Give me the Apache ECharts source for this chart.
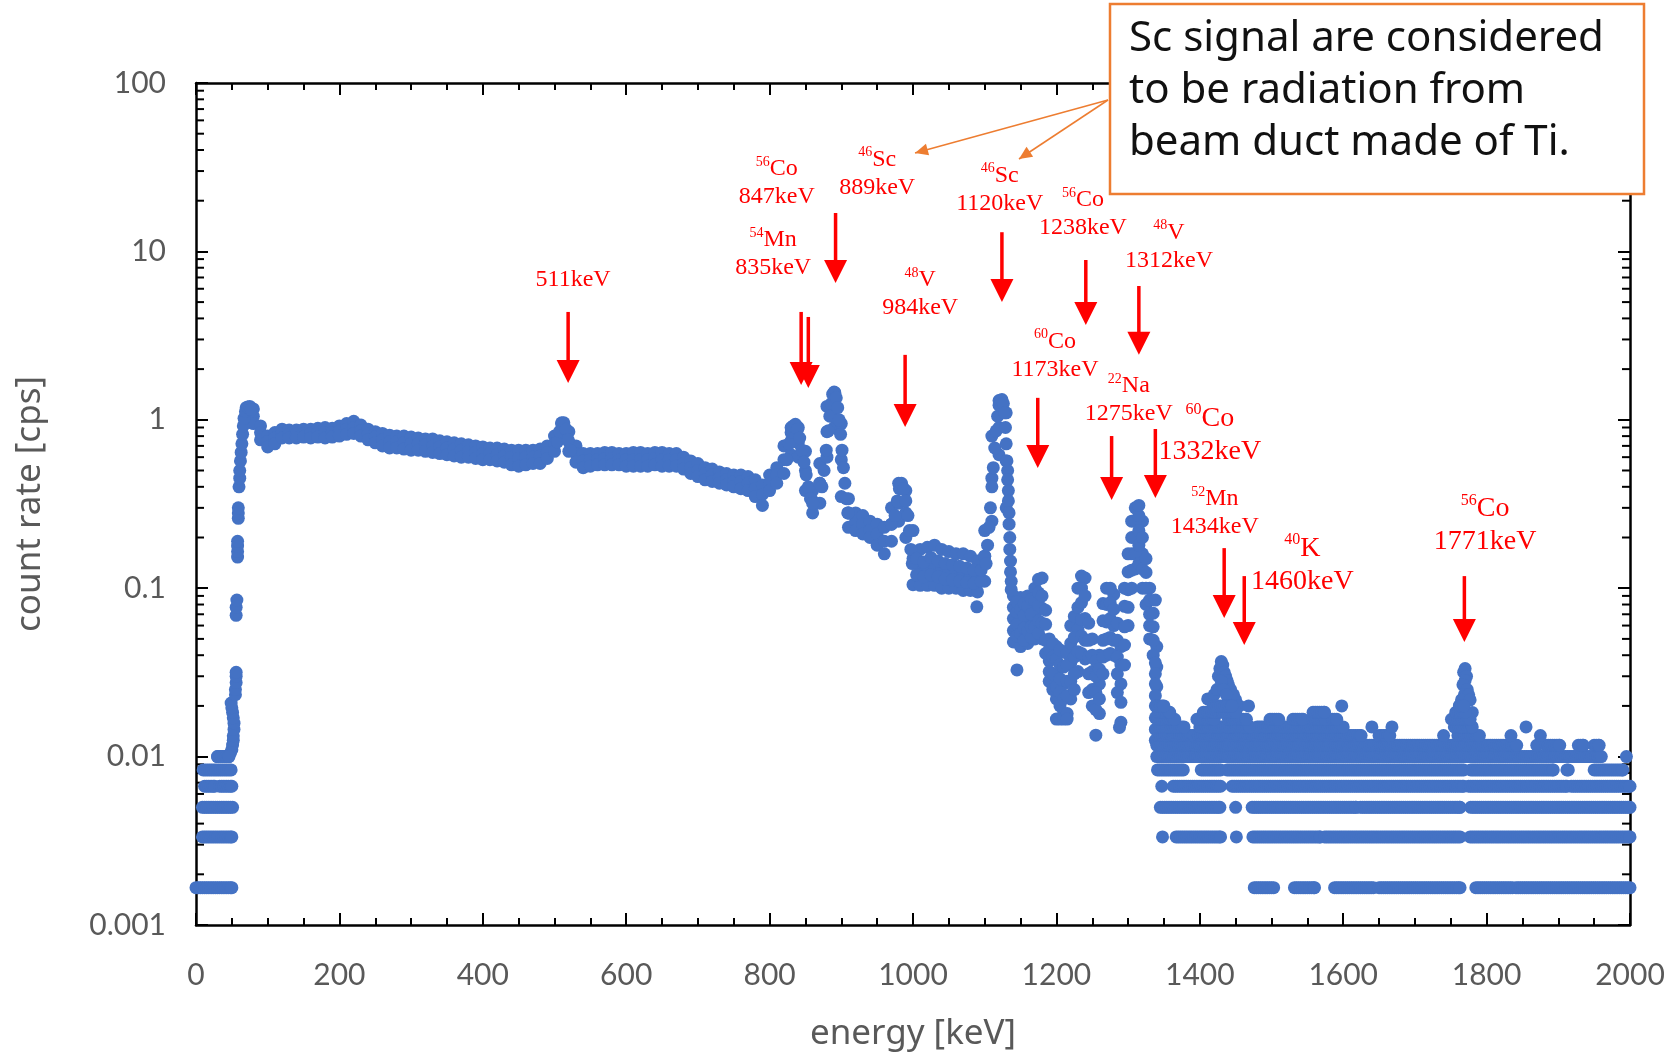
<!DOCTYPE html>
<html>
<head>
<meta charset="utf-8">
<title>count rate spectrum</title>
<script src="https://cdn.jsdelivr.net/npm/echarts@6/dist/echarts.min.js"></script>
<style>
  html, body { margin: 0; padding: 0; background: #fff; }
  #chart { width: 1673px; height: 1057px; }
</style>
</head>
<body>
<div id="chart"></div>
<script>
// main band of the spectrum, read at 10 keV steps (cps): top, centre and bottom of the band
const bandEnergy = [70, 80, 90, 100, 110, 120, 130, 140, 150, 160, 170, 180, 190, 200, 210, 220, 230, 240, 250, 260,
  270, 280, 290, 300, 310, 320, 330, 340, 350, 360, 370, 380, 390, 400, 410, 420, 430, 440, 450, 460,
  470, 480, 490, 500, 510, 520, 530, 540, 550, 560, 570, 580, 590, 600, 610, 620, 630, 640, 650, 660,
  670, 680, 690, 700, 710, 720, 730, 740, 750, 760, 770, 780, 790, 800, 810, 820, 830, 840, 850, 860,
  870, 880, 890, 900, 910, 920, 930, 940, 950, 960, 970, 980, 990, 1000, 1010, 1020, 1030, 1040, 1050, 1060,
  1070, 1080, 1090, 1100, 1110, 1120, 1130, 1140, 1150, 1160, 1170, 1180, 1190, 1200, 1210, 1220, 1230, 1240, 1250, 1260,
  1270, 1280, 1290, 1300, 1310, 1320, 1330, 1340];
const bandUpper = [1.18, 1.16, 0.92, 0.80, 0.84, 0.88, 0.87, 0.87, 0.88, 0.88, 0.89, 0.90, 0.89, 0.92, 0.95, 0.98, 0.93, 0.88, 0.85, 0.83,
  0.81, 0.80, 0.80, 0.79, 0.78, 0.77, 0.77, 0.75, 0.74, 0.73, 0.72, 0.71, 0.70, 0.69, 0.68, 0.68, 0.67, 0.66, 0.66, 0.66,
  0.66, 0.67, 0.70, 0.80, 0.96, 0.85, 0.70, 0.63, 0.63, 0.63, 0.64, 0.64, 0.63, 0.63, 0.64, 0.64, 0.63, 0.64, 0.64, 0.63,
  0.63, 0.60, 0.57, 0.55, 0.52, 0.51, 0.49, 0.48, 0.47, 0.47, 0.46, 0.44, 0.41, 0.47, 0.52, 0.70, 0.90, 0.90, 0.65, 0.38,
  0.55, 1.20, 1.46, 0.95, 0.34, 0.28, 0.27, 0.25, 0.24, 0.23, 0.30, 0.42, 0.38, 0.22, 0.17, 0.175, 0.18, 0.17, 0.165, 0.16,
  0.16, 0.155, 0.145, 0.22, 0.80, 1.30, 1.10, 0.090, 0.088, 0.090, 0.100, 0.115, 0.050, 0.045, 0.042, 0.060, 0.100, 0.115, 0.050, 0.040,
  0.100, 0.092, 0.045, 0.160, 0.300, 0.250, 0.100, 0.045];
const bandMiddle = [1.10, 1.05, 0.84, 0.74, 0.78, 0.83, 0.82, 0.82, 0.83, 0.83, 0.84, 0.84, 0.84, 0.86, 0.88, 0.90, 0.86, 0.82, 0.79, 0.76,
  0.74, 0.74, 0.73, 0.72, 0.72, 0.71, 0.70, 0.69, 0.68, 0.67, 0.66, 0.65, 0.64, 0.63, 0.63, 0.62, 0.61, 0.60, 0.59, 0.60,
  0.60, 0.61, 0.64, 0.72, 0.88, 0.74, 0.63, 0.57, 0.58, 0.58, 0.59, 0.59, 0.58, 0.58, 0.58, 0.58, 0.58, 0.59, 0.58, 0.58,
  0.58, 0.55, 0.52, 0.50, 0.48, 0.47, 0.45, 0.44, 0.43, 0.43, 0.42, 0.39, 0.36, 0.42, 0.47, 0.58, 0.75, 0.73, 0.50, 0.33,
  0.42, 0.85, 1.15, 0.58, 0.28, 0.25, 0.24, 0.22, 0.21, 0.19, 0.24, 0.32, 0.28, 0.15, 0.133, 0.135, 0.137, 0.13, 0.128, 0.126,
  0.125, 0.122, 0.118, 0.155, 0.45, 0.90, 0.57, 0.066, 0.062, 0.066, 0.071, 0.076, 0.037, 0.031, 0.027, 0.036, 0.057, 0.066, 0.032, 0.027,
  0.063, 0.060, 0.027, 0.098, 0.20, 0.16, 0.07, 0.034];
const bandLower = [1.02, 0.95, 0.76, 0.69, 0.72, 0.78, 0.78, 0.78, 0.79, 0.78, 0.79, 0.78, 0.79, 0.80, 0.82, 0.83, 0.80, 0.76, 0.73, 0.70,
  0.68, 0.68, 0.67, 0.66, 0.66, 0.65, 0.64, 0.63, 0.62, 0.61, 0.60, 0.60, 0.59, 0.58, 0.58, 0.57, 0.56, 0.54, 0.53, 0.54,
  0.55, 0.55, 0.59, 0.65, 0.80, 0.65, 0.56, 0.52, 0.53, 0.54, 0.54, 0.54, 0.54, 0.53, 0.53, 0.53, 0.53, 0.54, 0.53, 0.53,
  0.53, 0.51, 0.48, 0.46, 0.44, 0.43, 0.42, 0.41, 0.40, 0.39, 0.38, 0.35, 0.31, 0.38, 0.42, 0.48, 0.62, 0.60, 0.38, 0.28,
  0.32, 0.60, 0.90, 0.35, 0.23, 0.22, 0.21, 0.20, 0.18, 0.16, 0.19, 0.25, 0.20, 0.105, 0.104, 0.104, 0.104, 0.100, 0.100, 0.100,
  0.097, 0.097, 0.095, 0.110, 0.25, 0.62, 0.30, 0.048, 0.045, 0.047, 0.050, 0.050, 0.028, 0.022, 0.018, 0.022, 0.032, 0.038, 0.020, 0.018,
  0.040, 0.040, 0.016, 0.060, 0.130, 0.100, 0.050, 0.026];

// single points: steep peak flanks, scatter inside wide parts of the band, outliers
const extraPoints = [
  [30, 0.01], [35, 0.01], [40, 0.01], [45, 0.01], [48, 0.0105], [50, 0.011], [51, 0.0117], [52, 0.0125], [52, 0.0133],
  [53, 0.0145], [53, 0.0158], [52, 0.017], [51, 0.0183], [50, 0.0195], [49, 0.0208], [55, 0.0233], [55, 0.025],
  [56, 0.0275], [56, 0.03], [56, 0.0317], [56, 0.069], [56, 0.077], [57, 0.085], [58, 0.153], [58, 0.165], [58, 0.178],
  [58, 0.19], [59, 0.26], [59, 0.28], [59, 0.30], [60, 0.40], [61, 0.45], [61, 0.50], [62, 0.57], [63, 0.64], [64, 0.72],
  [65, 0.82], [66, 0.92], [67, 1.02], [69, 1.12], [72, 1.19], [75, 1.2], [77, 1.15],
  [504, 0.74], [507, 0.85], [510, 0.95], [513, 0.96], [516, 0.88], [519, 0.76], [522, 0.66],
  [824, 0.58], [827, 0.72], [830, 0.84], [833, 0.92], [836, 0.94], [839, 0.88], [842, 0.78], [845, 0.66], [848, 0.56],
  [851, 0.47], [854, 0.40], [857, 0.34], [860, 0.32], [870, 0.42],
  [873, 0.40], [876, 0.50], [879, 0.66], [882, 0.86], [884, 1.05], [886, 1.25], [888, 1.42], [891, 1.45], [893, 1.35],
  [895, 1.18], [897, 1.0], [899, 0.82], [901, 0.66], [903, 0.52], [905, 0.42], [907, 0.34], [909, 0.28], [910, 0.28],
  [970, 0.24], [975, 0.27], [978, 0.33], [981, 0.39], [984, 0.42], [987, 0.39], [990, 0.33], [993, 0.27], [995, 0.22],
  [997, 0.17], [999, 0.14],
  [1005, 0.12], [1005, 0.15], [1015, 0.117], [1015, 0.143], [1025, 0.12], [1025, 0.152], [1035, 0.117], [1035, 0.145],
  [1045, 0.113], [1045, 0.14], [1055, 0.112], [1055, 0.138], [1065, 0.11], [1065, 0.135], [1075, 0.108], [1075, 0.132],
  [1085, 0.107], [1085, 0.128], [1095, 0.11], [1095, 0.128], [1089, 0.0775], [1100, 0.155],
  [1102, 0.14], [1104, 0.18], [1106, 0.23], [1108, 0.3], [1110, 0.4], [1112, 0.52], [1114, 0.68], [1116, 0.86],
  [1118, 1.05], [1120, 1.22], [1122, 1.3], [1124, 1.32], [1126, 1.25], [1128, 1.1], [1129, 0.9], [1130, 0.72],
  [1131, 0.57], [1132, 0.50], [1132, 0.44], [1133, 0.38], [1133, 0.33], [1134, 0.28], [1134, 0.24], [1135, 0.2],
  [1135, 0.17], [1136, 0.145], [1136, 0.125], [1137, 0.11], [1137, 0.098],
  [1140, 0.056], [1140, 0.077], [1145, 0.052], [1145, 0.061], [1145, 0.072], [1145, 0.083], [1145, 0.0327],
  [1150, 0.054], [1150, 0.075], [1155, 0.049], [1155, 0.058], [1155, 0.069], [1155, 0.081],
  [1160, 0.056], [1160, 0.078], [1165, 0.051], [1165, 0.059], [1165, 0.07], [1165, 0.086],
  [1170, 0.059], [1170, 0.084], [1175, 0.054], [1175, 0.064], [1175, 0.079], [1175, 0.094], [1175, 0.113],
  [1180, 0.062], [1180, 0.09], [1185, 0.041], [1185, 0.049], [1185, 0.061], [1185, 0.074],
  [1190, 0.032], [1190, 0.043], [1195, 0.025], [1195, 0.031], [1195, 0.039], [1195, 0.047],
  [1200, 0.026], [1200, 0.038], [1200, 0.0167], [1205, 0.02], [1205, 0.024], [1205, 0.029], [1205, 0.035],
  [1205, 0.043], [1205, 0.0167], [1210, 0.022], [1210, 0.034], [1210, 0.0167],
  [1215, 0.018], [1215, 0.023], [1215, 0.028], [1215, 0.035], [1215, 0.041], [1215, 0.0167],
  [1220, 0.028], [1220, 0.047], [1225, 0.025], [1225, 0.031], [1225, 0.039], [1225, 0.051], [1225, 0.068],
  [1230, 0.042], [1230, 0.077], [1235, 0.041], [1235, 0.052], [1235, 0.065], [1235, 0.082],
  [1235, 0.1], [1235, 0.118], [1240, 0.049], [1240, 0.09],
  [1245, 0.024], [1245, 0.031], [1245, 0.039], [1245, 0.049], [1245, 0.062], [1250, 0.025], [1250, 0.04],
  [1255, 0.0134], [1255, 0.019], [1255, 0.024], [1255, 0.03], [1255, 0.037], [1260, 0.022], [1260, 0.033],
  [1265, 0.031], [1265, 0.039], [1265, 0.049], [1265, 0.064], [1265, 0.081], [1270, 0.05], [1270, 0.08],
  [1275, 0.041], [1275, 0.051], [1275, 0.066], [1275, 0.082], [1275, 0.1], [1280, 0.049], [1280, 0.075],
  [1285, 0.024], [1285, 0.031], [1285, 0.039], [1285, 0.049], [1285, 0.062], [1288, 0.0149],
  [1290, 0.021], [1290, 0.035], [1295, 0.035], [1295, 0.046], [1295, 0.059], [1295, 0.078], [1295, 0.1],
  [1300, 0.077], [1300, 0.125], [1305, 0.1], [1305, 0.128], [1305, 0.16], [1305, 0.2], [1305, 0.25],
  [1310, 0.16], [1310, 0.25], [1315, 0.14], [1315, 0.18], [1315, 0.22], [1315, 0.27], [1315, 0.31],
  [1320, 0.13], [1320, 0.2], [1325, 0.08], [1325, 0.1], [1325, 0.124], [1325, 0.15],
  [1330, 0.06], [1330, 0.085], [1335, 0.04], [1335, 0.049], [1335, 0.059], [1335, 0.071],
  [1338, 0.085], [1338, 0.036], [1338, 0.031], [1338, 0.027], [1338, 0.023], [1338, 0.02], [1338, 0.017],
  [1338, 0.0145], [1338, 0.0125],
  [1411, 0.022], [1414, 0.0217], [1420, 0.0233], [1424, 0.025], [1426, 0.03], [1428, 0.0333], [1430, 0.0367],
  [1432, 0.035], [1434, 0.0317], [1436, 0.03], [1438, 0.0283], [1440, 0.0267], [1443, 0.025], [1447, 0.0233],
  [1450, 0.0217], [1455, 0.02], [1468, 0.02], [1430, 0.028], [1433, 0.025], [1437, 0.0233], [1598, 0.02],
  [1768, 0.0317], [1770, 0.0333], [1772, 0.03], [1770, 0.0283], [1767, 0.0267], [1773, 0.025], [1769, 0.0233],
  [1775, 0.0233], [1765, 0.0217], [1777, 0.0217], [1762, 0.02], [1780, 0.0183], [1757, 0.0183]
];

// low count channels sit on fixed levels (n counts / 600 s); runs of channels per level [from keV, to keV]
const countLevels = [0.001667, 0.003333, 0.005, 0.006667, 0.008333, 0.01, 0.011667, 0.013333, 0.015, 0.016667, 0.018333, 0.02];
const levelRuns = [
  [[0, 50], [1476, 1503], [1532, 1560], [1588, 1642], [1650, 1763], [1785, 1836], [1841, 2000]],
  [[9, 50], [1348, 1348], [1367, 1429], [1451, 1451], [1474, 1568], [1574, 1763], [1777, 2000]],
  [[9, 51], [1345, 1428], [1450, 1450], [1473, 1618], [1624, 1763], [1778, 2000]],
  [[12, 26], [33, 50], [1347, 1347], [1363, 1429], [1445, 1768], [1775, 1912], [1918, 2000]],
  [[10, 49], [1341, 1377], [1402, 1429], [1438, 1768], [1778, 1893], [1912, 1914], [1950, 1990]],
  [[30, 46], [1340, 1960], [1995, 1995]],
  [[1340, 1842], [1870, 1870], [1883, 1902], [1928, 1935], [1950, 1957]],
  [[1342, 1392], [1398, 1625], [1650, 1665], [1740, 1740], [1760, 1790], [1834, 1834], [1875, 1875]],
  [[1342, 1378], [1400, 1470], [1480, 1600], [1640, 1640], [1668, 1668], [1755, 1780], [1855, 1855]],
  [[1342, 1365], [1396, 1420], [1440, 1465], [1498, 1510], [1530, 1544], [1558, 1575], [1585, 1591], [1751, 1777]],
  [[1342, 1358], [1405, 1450], [1558, 1574], [1758, 1770]],
  [[1342, 1350], [1420, 1445], [1762, 1768]]
];

// peak annotations
const arrowEnergy = [519, 844, 854, 892, 989, 1124, 1174, 1241, 1277, 1315, 1338, 1434, 1462, 1769];
const arrowTop = [4.37, 4.37, 4.08, 16.9, 2.43, 13.0, 1.35, 8.89, 0.801, 6.23, 0.882, 0.173, 0.118, 0.118];
const arrowBottom = [1.654, 1.61, 1.545, 6.49, 0.906, 5.01, 0.517, 3.66, 0.334, 2.43, 0.343, 0.0665, 0.046, 0.048];

const peakMass = ['', '56', '54', '46', '48', '46', '60', '56', '22', '48', '60', '52', '40', '56'];
const peakElement = ['', 'Co', 'Mn', 'Sc', 'V', 'Sc', 'Co', 'Co', 'Na', 'V', 'Co', 'Mn', 'K', 'Co'];
const peakEnergyText = ['511keV', '847keV', '835keV', '889keV', '984keV', '1120keV', '1173keV', '1238keV',
  '1275keV', '1312keV', '1332keV', '1434keV', '1460keV', '1771keV'];
const labelEnergy = [526, 810, 805, 950, 1010, 1121, 1198, 1237, 1301, 1357, 1414, 1421, 1543, 1798];
const labelValue = [6.76, 25.5, 9.66, 29.0, 5.58, 23.3, 2.41, 16.7, 1.31, 10.7, 0.813, 0.280, 0.137, 0.236];
const bigLabels = ['1332keV', '1460keV', '1771keV'];

const yDecades = [0.001, 0.01, 0.1, 1, 10];
const calloutText = 'Sc signal are considered\nto be radiation from\nbeam duct made of Ti.';

const BLUE = '#4472C4';
const RED = '#FF0000';
const ORANGE = '#ED7D31';
const GREY = '#595959';

function runsToPoints(level, runs) {
  const pts = [];
  runs.forEach(([a, b]) => {
    for (let e = a; e <= b; e += 3) pts.push([e, level]);
    if ((b - a) % 3 !== 0) pts.push([b, level]);
  });
  return pts;
}

let spectrum = [];
bandEnergy.forEach((e, i) => {
  spectrum.push([e, bandUpper[i]]);
  spectrum.push([e, bandMiddle[i]]);
  spectrum.push([e, bandLower[i]]);
});
spectrum = spectrum.concat(extraPoints);
countLevels.forEach((lv, i) => {
  spectrum = spectrum.concat(runsToPoints(lv, levelRuns[i]));
});

const minorY = [];
yDecades.forEach(d => {
  for (let m = 2; m <= 9; m++) minorY.push([0, +(d * m).toPrecision(3)]);
});

function arrowHead(tip, from, len, half) {
  const dx = tip[0] - from[0], dy = tip[1] - from[1];
  const l = Math.sqrt(dx * dx + dy * dy);
  const ux = dx / l, uy = dy / l;
  const bx = tip[0] - ux * len, by = tip[1] - uy * len;
  return [tip, [bx - uy * half, by + ux * half], [bx + uy * half, by - ux * half]];
}

const calloutStart = [1108, 100];
const calloutTips = [[915, 153], [1019, 159]];
const calloutGraphics = [];
calloutTips.forEach(t => {
  calloutGraphics.push({
    type: 'line', z: 90,
    shape: { x1: calloutStart[0], y1: calloutStart[1], x2: t[0], y2: t[1] },
    style: { stroke: ORANGE, lineWidth: 1.5 }
  });
  calloutGraphics.push({
    type: 'polygon', z: 90,
    shape: { points: arrowHead(t, calloutStart, 13, 6) },
    style: { fill: ORANGE }
  });
});

const chart = echarts.init(document.getElementById('chart'));

const xAxisBase = {
  type: 'value', min: 0, max: 2000, interval: 200,
  axisLine: { show: true, onZero: false, lineStyle: { color: '#000', width: 2.5 } },
  axisTick: { show: true, inside: true, length: 12, lineStyle: { color: '#000', width: 2 } },
  minorTick: { show: true, splitNumber: 4, length: 7, lineStyle: { color: '#000', width: 2 } },
  splitLine: { show: false }
};
const yAxisBase = {
  type: 'log', logBase: 10, min: 0.001, max: 100,
  axisLine: { show: true, onZero: false, lineStyle: { color: '#000', width: 2.5 } },
  axisTick: { show: true, inside: true, length: 12, lineStyle: { color: '#000', width: 2 } },
  splitLine: { show: false }
};

chart.setOption({
  animation: false,
  backgroundColor: '#fff',
  grid: { left: 196, right: 43, top: 83, bottom: 132 },
  xAxis: [
    Object.assign({}, xAxisBase, {
      position: 'bottom',
      name: 'energy [keV]', nameLocation: 'middle', nameGap: 92,
      nameTextStyle: { color: GREY, fontSize: 35, fontFamily: '"Noto Sans"' },
      axisLabel: { color: GREY, fontSize: 30, fontFamily: 'Lato', margin: 35, formatter: v => String(v) }
    }),
    Object.assign({}, xAxisBase, { position: 'top', axisLabel: { show: false } })
  ],
  yAxis: [
    Object.assign({}, yAxisBase, {
      position: 'left',
      name: 'count rate [cps]', nameLocation: 'middle', nameGap: 148,
      nameTextStyle: { color: GREY, fontSize: 35, fontFamily: '"Noto Sans"' },
      axisLabel: {
        color: GREY, fontSize: 30, fontFamily: 'Lato', margin: 30,
        formatter: v => String(+(+v).toPrecision(4))
      }
    }),
    Object.assign({}, yAxisBase, { position: 'right', axisLabel: { show: false } })
  ],
  graphic: [
    {
      type: 'rect', z: 100,
      shape: { x: 1110, y: 4, width: 534, height: 190 },
      style: { fill: '#fff', stroke: ORANGE, lineWidth: 2.5 }
    },
    {
      type: 'text', z: 101, x: 1129, y: 13,
      style: {
        text: calloutText, fill: '#111', fontSize: 42, lineHeight: 52,
        fontFamily: '"Noto Sans", "Noto Sans CJK JP", sans-serif'
      }
    }
  ].concat(calloutGraphics),
  series: [
    {
      name: 'spectrum', type: 'scatter', silent: true,
      symbol: 'circle', symbolSize: 13,
      itemStyle: { color: BLUE, opacity: 1 },
      data: spectrum
    },
    {
      name: 'minor y ticks', type: 'custom', silent: true, clip: false,
      data: minorY,
      renderItem: (params, api) => {
        const v = api.value(1);
        const l = api.coord([0, v]);
        const r = api.coord([2000, v]);
        return {
          type: 'group',
          children: [
            { type: 'line', shape: { x1: l[0], y1: l[1], x2: l[0] + 8, y2: l[1] }, style: { stroke: '#000', lineWidth: 2 } },
            { type: 'line', shape: { x1: r[0] - 8, y1: r[1], x2: r[0], y2: r[1] }, style: { stroke: '#000', lineWidth: 2 } }
          ]
        };
      }
    },
    {
      name: 'peak arrows', type: 'custom', silent: true, clip: false,
      encode: { x: 0, y: [1, 2] },
      data: arrowEnergy.map((e, i) => [e, arrowTop[i], arrowBottom[i]]),
      renderItem: (params, api) => {
        const top = api.coord([api.value(0), api.value(1)]);
        const bot = api.coord([api.value(0), api.value(2)]);
        const x = top[0];
        return {
          type: 'group',
          children: [
            { type: 'line', shape: { x1: x, y1: top[1], x2: x, y2: bot[1] - 18 }, style: { stroke: RED, lineWidth: 3.5 } },
            { type: 'polygon', shape: { points: [[x - 11.5, bot[1] - 23], [x + 11.5, bot[1] - 23], [x, bot[1]]] }, style: { fill: RED } }
          ]
        };
      }
    },
    {
      name: 'peak labels', type: 'custom', silent: true, clip: false,
      data: labelEnergy.map((e, i) => [e, labelValue[i], i]),
      renderItem: (params, api) => {
        const i = api.value(2);
        const p = api.coord([api.value(0), api.value(1)]);
        const big = bigLabels.indexOf(peakEnergyText[i]) >= 0;
        const fs = big ? 28 : 24;
        const lh = big ? 33 : 28;
        const head = peakMass[i] ? '{s|' + peakMass[i] + '}{n|' + peakElement[i] + '}\n' : '';
        return {
          type: 'text', x: p[0], y: p[1],
          style: {
            text: head + '{n|' + peakEnergyText[i] + '}',
            align: 'center', verticalAlign: 'middle',
            fill: RED, fontFamily: 'Liberation Serif', fontSize: fs,
            rich: {
              n: { fill: RED, fontFamily: 'Liberation Serif', fontSize: fs, lineHeight: lh, verticalAlign: 'middle' },
              s: { fill: RED, fontFamily: 'Liberation Serif', fontSize: Math.round(fs * 0.58), lineHeight: lh, verticalAlign: 'top' }
            }
          }
        };
      }
    }
  ]
});
</script>
</body>
</html>
